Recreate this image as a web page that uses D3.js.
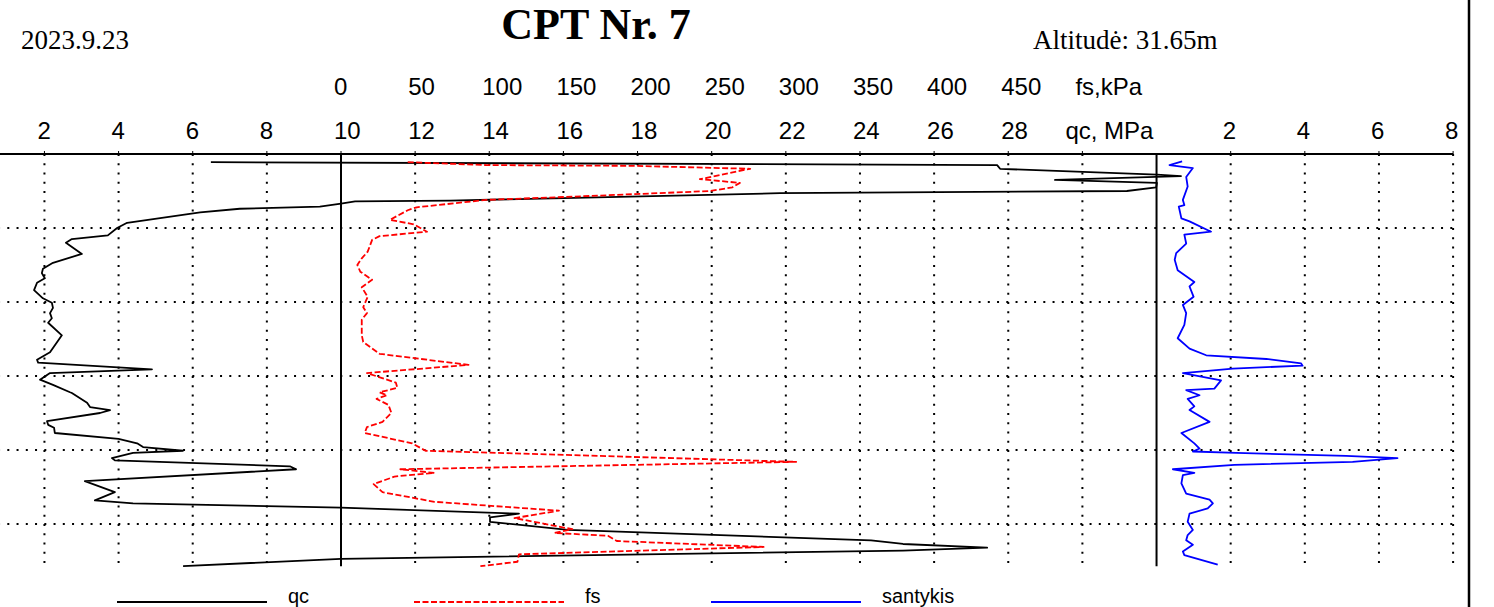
<!DOCTYPE html>
<html>
<head>
<meta charset="utf-8">
<script src="https://cdn.jsdelivr.net/npm/d3@7/dist/d3.min.js"></script>
<style>
    body { margin: 0; background: #fff; }
    svg { display: block; }
    .tickLabel { font-family: "Liberation Sans", Arial, sans-serif; font-size: 24px; fill: #000; }
    .serifText { font-family: "Liberation Serif", "Times New Roman", serif; font-size: 27px; fill: #000; }
    .chartTitle { font-family: "Liberation Serif", "Times New Roman", serif; font-size: 44px; font-weight: bold; fill: #000; }
    .legendText { font-family: "Liberation Sans", Arial, sans-serif; font-size: 20px; fill: #000; }
    .grid { stroke: #000; stroke-width: 2; stroke-dasharray: 2, 7.25; fill: none; }
</style>
</head>
<body>
<script>
(function() {

    ////////////////////
    //Global Variables//
    ////////////////////
    // qc, MPa against depth, m
    var qcDepth = [0.11, 0.15, 0.20, 0.28, 0.30, 0.35, 0.39, 0.45, 0.50, 0.53, 0.63, 0.64, 0.67, 0.71, 0.74, 0.79,
        0.93, 1.00, 1.10, 1.15, 1.20, 1.35, 1.47, 1.55, 1.61, 1.68, 1.74, 1.84, 1.95, 2.01, 2.08, 2.15,
        2.22, 2.28, 2.45, 2.68, 2.78, 2.82, 2.91, 2.96, 3.05, 3.12, 3.22, 3.23, 3.36, 3.42, 3.46, 3.50,
        3.61, 3.66, 3.70, 3.77, 3.85, 3.91, 3.96, 4.01, 4.04, 4.11, 4.14, 4.22, 4.26, 4.42, 4.57, 4.68,
        4.72, 4.78, 4.86, 4.91, 4.97, 5.08, 5.22, 5.27, 5.32, 5.36, 5.47, 5.57];
    var qcValues = [6.49, 27.7, 27.78, 32.01, 32.66, 29.26, 32.01, 31.99, 31.2, 21.84, 12.94, 10.38, 10.0, 9.43, 7.27, 6.2,
        4.23, 3.96, 3.71, 2.74, 2.58, 3.01, 2.23, 1.96, 1.93, 2.01, 1.80, 1.72, 1.96, 2.20, 2.23, 2.15,
        2.20, 2.10, 2.47, 2.15, 1.80, 1.83, 4.90, 2.15, 1.88, 2.23, 2.69, 2.74, 3.15, 3.23, 3.77, 3.50,
        2.07, 2.10, 2.26, 2.28, 4.0, 4.50, 4.66, 5.74, 4.39, 3.82, 3.90, 8.62, 8.79, 3.09, 3.90, 3.36,
        4.39, 10.0, 14.8, 14.02, 14.02, 16.12, 24.3, 25.16, 27.43, 25.16, 10.0, 5.74];

    // fs, kPa against depth, m
    var fsDepth = [0.11, 0.15, 0.16, 0.20, 0.34, 0.39, 0.45, 0.50, 0.58, 0.62, 0.72, 0.76, 0.89, 0.95, 1.05, 1.11,
        1.16, 1.32, 1.41, 1.50, 1.59, 1.70, 1.80, 1.93, 2.07, 2.15, 2.24, 2.45, 2.54, 2.70, 2.85, 2.96,
        3.09, 3.16, 3.22, 3.26, 3.31, 3.39, 3.50, 3.62, 3.69, 3.77, 3.91, 4.01, 4.16, 4.26, 4.31, 4.34,
        4.36, 4.46, 4.57, 4.70, 4.82, 4.92, 5.07, 5.12, 5.16, 5.23, 5.31, 5.41, 5.51, 5.57];
    var fsValues = [45, 98, 197, 276, 242, 269, 264, 249, 152, 98, 51, 45, 33, 49, 58, 26,
        21, 18, 14, 11, 13, 21, 14, 18, 15, 17.5, 14, 14, 15, 26, 86, 17.5,
        37, 38, 26, 31, 24, 32, 34, 28, 17.5, 16, 48, 57, 307, 40, 63, 45,
        36, 22, 28, 63, 147, 117, 156, 144, 180, 186, 285, 120, 119, 94];

    // santykis against depth, m
    var ratioDepth = [0.10, 0.15, 0.19, 0.31, 0.44, 0.62, 0.69, 0.71, 0.87, 0.91, 1.05, 1.09, 1.21, 1.34, 1.43, 1.57,
        1.73, 1.79, 1.93, 2.04, 2.15, 2.31, 2.49, 2.63, 2.72, 2.77, 2.83, 2.86, 2.90, 2.96, 3.06, 3.17,
        3.19, 3.26, 3.31, 3.41, 3.46, 3.62, 3.77, 3.91, 3.98, 4.02, 4.04, 4.08, 4.11, 4.16, 4.20, 4.26,
        4.31, 4.34, 4.45, 4.59, 4.67, 4.72, 4.79, 4.86, 4.97, 5.08, 5.15, 5.22, 5.28, 5.37, 5.42, 5.55];
    var ratioValues = [0.69, 0.35, 0.98, 0.80, 0.84, 0.71, 0.75, 0.60, 0.67, 0.89, 1.47, 0.75, 0.80, 0.53, 0.49, 0.57,
        1.02, 0.89, 1.00, 0.71, 0.80, 0.75, 0.57, 0.89, 1.34, 2.96, 3.90, 3.94, 2.06, 0.71, 1.74, 1.56,
        0.80, 1.16, 0.84, 1.02, 0.89, 1.43, 0.67, 1.02, 1.16, 0.98, 2.15, 5.11, 6.50, 5.29, 2.10, 0.44,
        1.02, 0.71, 0.67, 0.80, 1.43, 1.52, 1.38, 0.89, 0.84, 0.98, 0.84, 0.80, 0.98, 0.71, 0.75, 1.65];

    // tick labels
    var qcTicks = [2, 4, 6, 8, 10, 12, 14, 16, 18, 20, 22, 24, 26, 28];
    var fsTicks = [0, 50, 100, 150, 200, 250, 300, 350, 400, 450];
    var ratioTicks = [2, 4, 6, 8];
    var depthTicks = [1, 2, 3, 4, 5];
    var legendLabels = ["qc", "fs", "santykis"];

    // chart frame
    var width = 1494,
        height = 607,
        axisY = 154,
        pxPerUnit = 37.07,
        qcZero = -29.7,
        labelShift = -7;

    var svg = d3.select("body")
        .append("svg")
        .attr("width", width)
        .attr("height", height);

    // scales
    var xQc = d3.scaleLinear()
        .domain([0, 32])
        .range([qcZero, qcZero + 32 * pxPerUnit]);

    var xFs = d3.scaleLinear()
        .domain([0, 500])
        .range([xQc(10), xQc(30)]);

    var xRatio = d3.scaleLinear()
        .domain([0, 8])
        .range([xQc(32), xQc(32) + 8 * pxPerUnit]);

    var yDepth = d3.scaleLinear()
        .domain([0, 5.57])
        .range([axisY, axisY + 5.57 * 74]);

    var plotBottom = yDepth(5.57);

    // dotted grid, vertical
    var gridX = qcTicks.map(function(d) { return xQc(d); })
        .concat([xQc(30)])
        .concat(ratioTicks.map(function(d) { return xRatio(d); }));

    svg.selectAll(".gridV")
        .data(gridX)
        .enter()
        .append("line")
        .attr("class", "grid gridV")
        .attr("x1", function(d) { return d; })
        .attr("x2", function(d) { return d; })
        .attr("y1", axisY)
        .attr("y2", plotBottom);

    // dotted grid, horizontal
    svg.selectAll(".gridH")
        .data(depthTicks)
        .enter()
        .append("line")
        .attr("class", "grid gridH")
        .attr("x1", xQc(0))
        .attr("x2", xRatio(8))
        .attr("y1", function(d) { return yDepth(d); })
        .attr("y2", function(d) { return yDepth(d); });

    // solid separators at fs = 0 and santykis = 0
    svg.selectAll(".zeroLine")
        .data([xFs(0), xRatio(0)])
        .enter()
        .append("line")
        .attr("class", "zeroLine")
        .attr("x1", function(d) { return d; })
        .attr("x2", function(d) { return d; })
        .attr("y1", axisY - 1)
        .attr("y2", plotBottom)
        .style("stroke", "#000")
        .style("stroke-width", 2);

    // top axis line + small ticks
    svg.append("line")
        .attr("x1", 0)
        .attr("x2", xRatio(8))
        .attr("y1", axisY)
        .attr("y2", axisY)
        .style("stroke", "#000")
        .style("stroke-width", 2.2);

    svg.selectAll(".tickMark")
        .data(gridX)
        .enter()
        .append("line")
        .attr("class", "tickMark")
        .attr("x1", function(d) { return d; })
        .attr("x2", function(d) { return d; })
        .attr("y1", axisY - 3)
        .attr("y2", axisY)
        .style("stroke", "#000")
        .style("stroke-width", 1);

    // tick labels, qc row
    svg.selectAll(".qcLabel")
        .data(qcTicks)
        .enter()
        .append("text")
        .attr("class", "tickLabel qcLabel")
        .attr("x", function(d) { return xQc(d) + labelShift; })
        .attr("y", 139)
        .text(function(d) { return d; });

    svg.append("text")
        .attr("class", "tickLabel")
        .attr("x", xQc(30) - 17)
        .attr("y", 139)
        .text("qc, MPa");

    // tick labels, fs row
    svg.selectAll(".fsLabel")
        .data(fsTicks)
        .enter()
        .append("text")
        .attr("class", "tickLabel fsLabel")
        .attr("x", function(d) { return xFs(d) + labelShift; })
        .attr("y", 95)
        .text(function(d) { return d; });

    svg.append("text")
        .attr("class", "tickLabel")
        .attr("x", xFs(500) + labelShift)
        .attr("y", 95)
        .text("fs,kPa");

    // tick labels, santykis
    svg.selectAll(".ratioLabel")
        .data(ratioTicks)
        .enter()
        .append("text")
        .attr("class", "tickLabel ratioLabel")
        .attr("x", function(d) { return xRatio(d) + labelShift - 1; })
        .attr("y", 139)
        .text(function(d) { return d; });

    // header texts
    svg.append("text")
        .attr("class", "chartTitle")
        .attr("x", 596)
        .attr("y", 39)
        .attr("text-anchor", "middle")
        .text("CPT Nr. 7");

    svg.append("text")
        .attr("class", "serifText")
        .attr("x", 21)
        .attr("y", 49)
        .text("2023.9.23");

    svg.append("text")
        .attr("class", "serifText")
        .attr("x", 1033)
        .attr("y", 49)
        .text("Altitudė: 31.65m");

    // right frame border
    svg.append("line")
        .attr("x1", 1469)
        .attr("x2", 1469)
        .attr("y1", 0)
        .attr("y2", height)
        .style("stroke", "#000")
        .style("stroke-width", 2.5);

    // curves
    function drawProfile(depths, values, xScale, color, dash) {
        var line = d3.line()
            .x(function(d, i) { return xScale(values[i]); })
            .y(function(d) { return yDepth(d); });

        svg.append("path")
            .datum(depths)
            .attr("d", line)
            .style("fill", "none")
            .style("stroke", color)
            .style("stroke-width", 1.8)
            .style("stroke-linejoin", "round")
            .style("stroke-dasharray", dash);
    };

    drawProfile(qcDepth, qcValues, xQc, "#000", null);
    drawProfile(fsDepth, fsValues, xFs, "#ff0000", "6,2.5");
    drawProfile(ratioDepth, ratioValues, xRatio, "#0000ff", null);

    // legend
    var legendStyles = [
        { color: "#000", dash: null },
        { color: "#ff0000", dash: "6,2.5" },
        { color: "#0000ff", dash: null }
    ];

    var legend = svg.selectAll(".legendItem")
        .data(legendLabels)
        .enter()
        .append("g")
        .attr("class", "legendItem")
        .attr("transform", function(d, i) {
            return "translate(" + (117 + i * 297) + ",602)";
        });

    legend.append("line")
        .attr("x1", 0)
        .attr("x2", 150)
        .attr("y1", 0)
        .attr("y2", 0)
        .style("stroke", function(d, i) { return legendStyles[i].color; })
        .style("stroke-width", 1.8)
        .style("stroke-dasharray", function(d, i) { return legendStyles[i].dash; });

    legend.append("text")
        .attr("class", "legendText")
        .attr("x", 171)
        .attr("y", 1)
        .text(function(d) { return d; });

})();
</script>
</body>
</html>
